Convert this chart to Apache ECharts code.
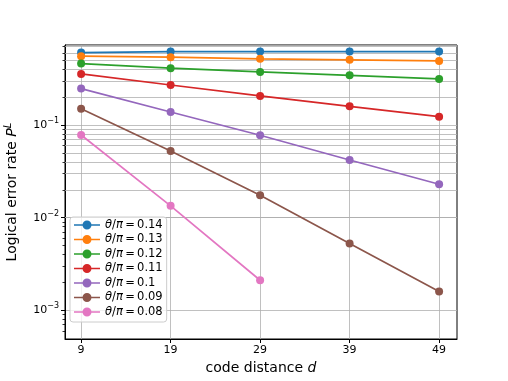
<!DOCTYPE html>
<html lang="en">
<head>
<meta charset="UTF-8">
<title>Logical error rate vs code distance</title>
<script src="https://cdn.jsdelivr.net/npm/echarts@6/dist/echarts.min.js"></script>
</head>
<body style="margin:0">
<div id="main" style="width:508px;height:381px;"></div>
<script>
// code distances
var distances = [9, 19, 29, 39, 49];
// theta/pi labels
var thetas = ['0.14', '0.13', '0.12', '0.11', '0.1', '0.09', '0.08'];
// logical error rates per theta
var p014 = [0.605, 0.62, 0.62, 0.62, 0.62];
var p013 = [0.553, 0.539, 0.518, 0.505, 0.492];
var p012 = [0.46, 0.41, 0.374, 0.344, 0.314];
var p011 = [0.356, 0.27, 0.206, 0.159, 0.123];
var p010 = [0.247, 0.138, 0.0774, 0.0419, 0.0229];
var p009 = [0.150, 0.0523, 0.0174, 0.00526, 0.0016];
var p008 = [0.078, 0.0134, 0.00211];
var rates = [p014, p013, p012, p011, p010, p009, p008];
// minor tick / gridline positions on the log axis
var minorTicks = [6e-4, 7e-4, 8e-4, 9e-4, 2e-3, 3e-3, 4e-3, 5e-3, 6e-3, 7e-3, 8e-3, 9e-3,
                  2e-2, 3e-2, 4e-2, 5e-2, 6e-2, 7e-2, 8e-2, 9e-2, 2e-1, 3e-1, 4e-1, 5e-1, 6e-1, 7e-1];

var colors = ['#1f77b4', '#ff7f0e', '#2ca02c', '#d62728', '#9467bd', '#8c564b', '#e377c2'];
var font = 'DejaVu Sans';
var gridColor = '#b0b0b0';
var yMin = 4.9e-4, yMax = 0.73;

var series = [];
for (var i = 0; i < thetas.length; i++) {
    var pts = [];
    for (var j = 0; j < rates[i].length; j++) {
        pts.push([distances[j], rates[i][j]]);
    }
    var s = {
        name: thetas[i],
        type: 'line',
        data: pts,
        symbol: 'circle',
        symbolSize: 8,
        color: colors[i],
        lineStyle: {width: 1.7},
        z: 3 + i
    };
    if (i === 0) {
        s.markLine = {
            silent: true,
            symbol: 'none',
            label: {show: false},
            animation: false,
            z: 1,
            lineStyle: {color: gridColor, width: 0.8, type: 'solid'},
            data: minorTicks.map(function (v) { return {yAxis: v}; })
        };
    }
    series.push(s);
}

var myChart = echarts.init(document.getElementById('main'));
var option = {
    animation: false,
    textStyle: {fontFamily: font},
    grid: {
        left: 65, right: 51, top: 45, bottom: 42,
        outerBoundsMode: 'none',
        containLabel: false,
        show: true, borderColor: '#000', borderWidth: 1
    },
    legend: {
        orient: 'vertical',
        left: 70, top: 217,
        padding: [2, 4, 4, 4],
        itemWidth: 26, itemHeight: 9, itemGap: 2.5,
        backgroundColor: 'rgba(255,255,255,0.8)',
        borderColor: '#cccccc', borderWidth: 1, borderRadius: 3,
        icon: 'path://M0,4.2 L26,4.2 L26,5.8 L0,5.8 Z M13,0.5 A4.5,4.5 0 1 1 12.99,0.5 Z',
        data: thetas,
        formatter: function (name) {
            return '{i|θ}/{i|π}\u2009=\u2009' + name;
        },
        textStyle: {
            fontFamily: font, fontSize: 11.5, color: '#000',
            rich: {i: {fontStyle: 'italic', fontFamily: font, fontSize: 11.5, color: '#000'}}
        }
    },
    xAxis: {
        type: 'value',
        min: 7.2, max: 51,
        name: 'code distance {i|d}',
        nameLocation: 'middle',
        nameGap: 22,
        nameTextStyle: {
            fontFamily: font, fontSize: 14, color: '#000',
            rich: {i: {fontStyle: 'italic', fontFamily: font, fontSize: 14, color: '#000'}}
        },
        axisLine: {lineStyle: {color: '#000', width: 1}},
        axisTick: {show: true, length: 4, inside: false, customValues: distances, lineStyle: {color: '#000'}},
        axisLabel: {customValues: distances, color: '#000', fontSize: 11, margin: 6, fontFamily: font},
        splitLine: {show: true, lineStyle: {color: gridColor, width: 0.8}}
    },
    yAxis: [{
        type: 'log',
        logBase: 10,
        min: yMin, max: yMax,
        name: 'Logical error rate {i|P}{sup|L}',
        nameLocation: 'middle',
        nameGap: 44,
        nameTextStyle: {
            fontFamily: font, fontSize: 14, color: '#000',
            rich: {
                i: {fontStyle: 'italic', fontFamily: font, fontSize: 14, color: '#000'},
                sup: {fontStyle: 'italic', fontFamily: font, fontSize: 10, color: '#000', padding: [0, 0, 8, 0]}
            }
        },
        axisLine: {show: true, lineStyle: {color: '#000', width: 1}},
        axisTick: {show: true, length: 4, lineStyle: {color: '#000'}},
        axisLabel: {
            showMinLabel: false, showMaxLabel: false,
            color: '#000', fontFamily: font, margin: 6,
            formatter: function (v) {
                var e = Math.round(Math.log10(v));
                return '10{sup|' + (e < 0 ? '−' + (-e) : e) + '}';
            },
            rich: {
                sup: {fontSize: 8, fontFamily: font, color: '#000', padding: [0, 0, 8, 0]}
            },
            fontSize: 11
        },
        splitLine: {show: true, lineStyle: {color: gridColor, width: 0.8}}
    }, {
        // minor ticks only
        type: 'log',
        logBase: 10,
        min: yMin, max: yMax,
        position: 'left',
        axisLine: {show: false},
        axisTick: {show: true, length: 2.5, customValues: minorTicks, lineStyle: {color: '#000', width: 0.8}},
        axisLabel: {show: false},
        splitLine: {show: false}
    }],
    series: series
};
myChart.setOption(option);
</script>
</body>
</html>
